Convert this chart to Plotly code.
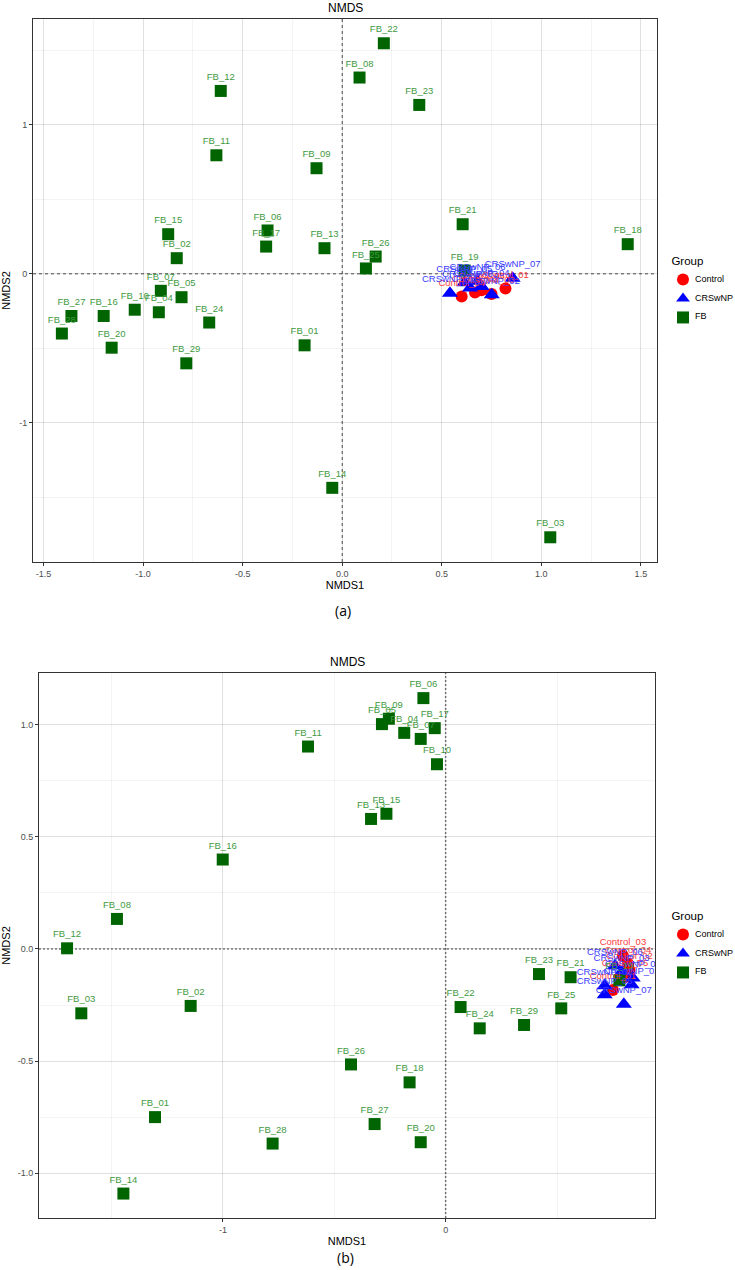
import plotly.graph_objects as go

# ---------------- data ----------------
fb_names = [f"FB_{i:02d}" for i in range(1, 30)]
ctrl_names = [f"Control_{i:02d}" for i in range(1, 6)]
crs_names = [f"CRSwNP_{i:02d}" for i in range(1, 8)]
group_names = ["Control", "CRSwNP", "FB"]

# panel (a)
a_fb_x = [-0.189, -0.831, 1.045, -0.921, -0.807, -0.375, -0.911, 0.087, -0.129, -1.042,
          -0.632, -0.610, -0.089, -0.050, -0.874, -1.198, -0.382, 1.434, 0.615, -1.158,
          0.605, 0.209, 0.387, -0.668, 0.119, 0.168, -1.360, -1.408, -0.783]
a_fb_y = [-0.480, 0.105, -1.769, -0.258, -0.157, 0.291, -0.114, 1.318, 0.709, -0.241,
          0.796, 1.228, 0.172, -1.437, 0.266, -0.283, 0.183, 0.199, 0.022, -0.496,
          0.333, 1.548, 1.134, -0.327, 0.036, 0.116, -0.283, -0.401, -0.601]
a_ctrl_x = [0.820, 0.667, 0.750, 0.600, 0.700]
a_ctrl_y = [-0.098, -0.125, -0.136, -0.152, -0.110]
a_crs_x = [0.541, 0.751, 0.642, 0.700, 0.613, 0.680, 0.856]
a_crs_y = [-0.130, -0.141, -0.096, -0.085, -0.060, -0.050, -0.029]

# panel (b)
b_fb_x = [-1.305, -1.145, -1.636, -0.186, -0.286, -0.100, -0.112, -1.476, -0.255, -0.039,
          -0.618, -1.700, -0.335, -1.447, -0.266, -1.001, -0.049, -0.162, 0.780, -0.112,
          0.561, 0.067, 0.419, 0.153, 0.519, -0.425, -0.319, -0.777, 0.352]
b_fb_y = [-0.750, -0.254, -0.287, 0.964, 1.003, 1.119, 0.937, 0.134, 1.027, 0.824,
          0.903, 0.003, 0.580, -1.091, 0.603, 0.399, 0.985, -0.595, -0.140, -0.862,
          -0.126, -0.259, -0.112, -0.354, -0.265, -0.515, -0.781, -0.868, -0.339]
b_ctrl_x = [0.751, 0.826, 0.796, 0.819, 0.805]
b_ctrl_y = [-0.183, -0.095, -0.030, -0.066, -0.125]
b_crs_x = [0.714, 0.835, 0.790, 0.840, 0.714, 0.760, 0.800]
b_crs_y = [-0.164, -0.160, -0.103, -0.130, -0.204, -0.075, -0.246]

a_xticks = [-1.5, -1.0, -0.5, 0.0, 0.5, 1.0, 1.5]
a_yticks = [-1, 0, 1]
b_xticks = [-1, 0]
b_yticks = [-1.0, -0.5, 0.0, 0.5, 1.0]

# ---------------- styles ----------------
W, H = 735, 1270
COL = {"Control": "#FF0000", "CRSwNP": "#0000FF", "FB": "#006400"}
TXT = {"Control": "#FF3B3B", "CRSwNP": "#3B3BFF", "FB": "#3F9A3F"}
SYM = {"Control": "circle", "CRSwNP": "triangle-up", "FB": "square"}
SIZE = {"Control": 12, "CRSwNP": 14, "FB": 12}
FONT = "Liberation Sans, Arial, sans-serif"

fig = go.Figure()

panels = [
    ("a", "x", "y", "legend",
     {"Control": (a_ctrl_x, a_ctrl_y, ctrl_names),
      "CRSwNP": (a_crs_x, a_crs_y, crs_names),
      "FB": (a_fb_x, a_fb_y, fb_names)}),
    ("b", "x2", "y2", "legend2",
     {"Control": (b_ctrl_x, b_ctrl_y, ctrl_names),
      "CRSwNP": (b_crs_x, b_crs_y, crs_names),
      "FB": (b_fb_x, b_fb_y, fb_names)}),
]

for tag, xa, ya, leg, groups in panels:
    for g, (xs, ys, names) in groups.items():
        # legend key only (its label is written next to it as an annotation)
        fig.add_trace(go.Scatter(
            x=xs, y=ys, mode="markers", name=" ", xaxis=xa, yaxis=ya, legend=leg,
            marker=dict(symbol=SYM[g], size=SIZE[g], color=COL[g], line=dict(width=0)),
            showlegend=True, hoverinfo="skip"))
    for g, (xs, ys, names) in groups.items():
        fig.add_trace(go.Scatter(
            x=xs, y=ys, mode="markers+text", text=names, textposition="top center",
            marker=dict(size=12, opacity=0, color=COL[g]),
            textfont=dict(family=FONT, size=9.5, color=TXT[g]),
            xaxis=xa, yaxis=ya, showlegend=False, hoverinfo="skip"))

def yd(top, bottom):
    return [1 - bottom / H, 1 - top / H]

# semi-transparent grids so the dashed zero lines below stay visible
grid_major = "rgba(0,0,0,0.08)"
grid_minor = "rgba(0,0,0,0.045)"
tickfont = dict(family=FONT, size=9, color="#4D4D4D")
titlefont = dict(family=FONT, size=11, color="#000000")

common = dict(showline=True, mirror=True, linecolor="#333333", linewidth=1,
              showgrid=True, gridcolor=grid_major, gridwidth=0.8, zeroline=False,
              ticks="outside", ticklen=3, tickcolor="#333333", tickwidth=0.8,
              tickfont=tickfont, title_font=titlefont)

legend_common = dict(xanchor="left", yanchor="top",
                     title=dict(text="\u00a0\u00a0Group", font=dict(family=FONT, size=11.5, color="#000")),
                     font=dict(family=FONT, size=9.5, color="#000"), bgcolor="rgba(0,0,0,0)",
                     tracegroupgap=0, itemsizing="constant", itemwidth=30)

LEG_X = 663
LEG_A_TOP, LEG_B_TOP = 250, 905

fig.update_layout(
    width=W, height=H, margin=dict(l=0, r=0, t=0, b=0, autoexpand=False),
    paper_bgcolor="white", plot_bgcolor="white",
    font=dict(family=FONT),
    xaxis=dict(domain=[33 / W, 657 / W], anchor="y", range=[-1.553, 1.581],
               tickvals=a_xticks, ticktext=[f"{v:.1f}" for v in a_xticks],
               minor=dict(dtick=0.25, tick0=0, showgrid=True, gridcolor=grid_minor, gridwidth=0.5),
               title=dict(text="NMDS1", standoff=3), **common),
    yaxis=dict(domain=yd(19, 562), anchor="x", range=[-1.935, 1.711],
               tickvals=a_yticks, ticktext=[f"{v:d}" for v in a_yticks],
               minor=dict(dtick=0.5, tick0=0, showgrid=True, gridcolor=grid_minor, gridwidth=0.5),
               title=dict(text="NMDS2", standoff=6), **common),
    xaxis2=dict(domain=[39 / W, 655 / W], anchor="y2", range=[-1.826, 0.940],
                tickvals=b_xticks, ticktext=[f"{v:d}" for v in b_xticks],
                minor=dict(dtick=0.5, tick0=0, showgrid=True, gridcolor=grid_minor, gridwidth=0.5),
                title=dict(text="NMDS1", standoff=3), **common),
    yaxis2=dict(domain=yd(673, 1218), anchor="x2", range=[-1.2, 1.231],
                tickvals=b_yticks, ticktext=[f"{v:.1f}" for v in b_yticks],
                minor=dict(dtick=0.25, tick0=0, showgrid=True, gridcolor=grid_minor, gridwidth=0.5),
                title=dict(text="NMDS2", standoff=4), **common),
    legend=dict(x=LEG_X / W, y=1 - LEG_A_TOP / H, **legend_common),
    legend2=dict(x=LEG_X / W, y=1 - LEG_B_TOP / H, **legend_common),
)

# legend labels placed next to the keys
for top in (LEG_A_TOP, LEG_B_TOP):
    for i, g in enumerate(group_names):
        fig.add_annotation(text=g, xref="paper", yref="paper", x=693 / W,
                           y=1 - (top + 29 + 18.5 * i) / H, xanchor="left", yanchor="middle",
                           showarrow=False, font=dict(family=FONT, size=9, color="#000"))

# dashed reference lines at 0
fig.add_shape(type="line", xref="x", yref="y domain", x0=0, x1=0, y0=0, y1=1,
              line=dict(color="#222222", width=0.8, dash="3px,3px"), layer="below")
fig.add_shape(type="line", xref="x domain", yref="y", x0=0, x1=1, y0=0, y1=0,
              line=dict(color="#222222", width=0.8, dash="3px,3px"), layer="below")
fig.add_shape(type="line", xref="x2", yref="y2 domain", x0=0, x1=0, y0=0, y1=1,
              line=dict(color="#7F7F7F", width=1.5, dash="2px,2px"), layer="below")
fig.add_shape(type="line", xref="x2 domain", yref="y2", x0=0, x1=1, y0=0, y1=0,
              line=dict(color="#7F7F7F", width=1.5, dash="2px,2px"), layer="below")

# titles and panel labels
ann = dict(xref="paper", yref="paper", showarrow=False, yanchor="middle", xanchor="center")
fig.add_annotation(text="NMDS", x=345 / W, y=1 - 8 / H,
                   font=dict(family=FONT, size=12, color="#000"), **ann)
fig.add_annotation(text="NMDS", x=347 / W, y=1 - 662 / H,
                   font=dict(family=FONT, size=12, color="#000"), **ann)
fig.add_annotation(text="(a)", x=343 / W, y=1 - 611 / H,
                   font=dict(family="Open Sans, sans-serif", size=14, color="#000"), **ann)
fig.add_annotation(text="(b)", x=345 / W, y=1 - 1257 / H,
                   font=dict(family="Open Sans, sans-serif", size=14, color="#000"), **ann)

fig.write_html(
    "out.html", config={"displayModeBar": False, "responsive": False},
    post_script=("document.body.style.margin='0px';"
                 "document.body.style.overflow='hidden';"
                 "document.documentElement.style.overflow='hidden';"))
